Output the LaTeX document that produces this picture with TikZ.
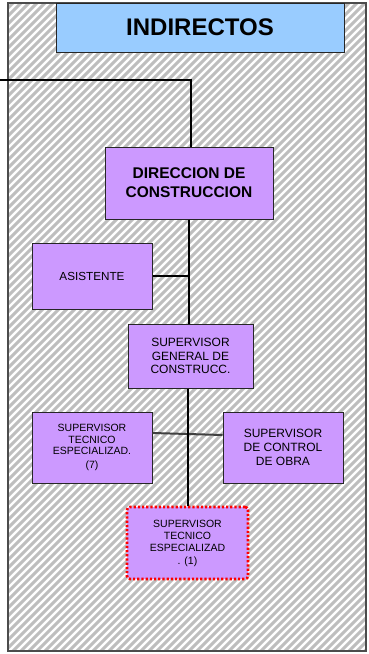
\documentclass[tikz,border=0pt]{standalone}
\usepackage{fontspec}
\setmainfont{Liberation Sans}
\definecolor{boxpurple}{HTML}{CC99FF}
\definecolor{boxblue}{HTML}{99CCFF}
\definecolor{hatchgray}{HTML}{BEBEBE}
\begin{document}
\begin{tikzpicture}[x=1pt,y=1pt,
  orgbox/.style={draw=black!85, line width=1pt, fill=boxpurple, align=center, inner sep=2pt, text=black},
  conn/.style={draw=black, line width=2pt},
  thinconn/.style={draw=black!75, line width=2pt}]
\useasboundingbox (0,0) rectangle (368,-654);
\fill[white] (0,0) rectangle (368,-654);
% hatched frame
\begin{scope}
\clip (8,-3) rectangle (366,-651);
\foreach \i in {-664,-656,...,376}{
  \draw[hatchgray, line width=3pt] (\i,-656) -- (\i+660,4);
}
\end{scope}
\draw[black!70, line width=1.3pt] (8,-3) rectangle (366,-651);
% nodes
\node[draw=black!85, line width=1pt, fill=boxblue, minimum width=288pt, minimum height=49pt, font=\fontsize{24}{28}\selectfont\bfseries] (ind) at (200,-27.5) {INDIRECTOS};
\coordinate (left) at (0,-80);
\node[orgbox, minimum width=168pt, minimum height=72pt, font=\fontsize{15.5}{18.7}\selectfont\bfseries] (dir) at (189,-183) {DIRECCION DE\\CONSTRUCCION};
\node[orgbox, minimum width=120pt, minimum height=66pt, font=\fontsize{11.7}{14}\selectfont] (asis) at (92,-276) {ASISTENTE};
\node[orgbox, minimum width=125pt, minimum height=64pt, font=\fontsize{12}{13.7}\selectfont] (sgc) at (190.5,-356) {SUPERVISOR\\GENERAL DE\\CONSTRUCC.};
\node[orgbox, minimum width=120pt, minimum height=71pt, font=\fontsize{10.5}{11.5}\selectfont] (ste7) at (92,-447.5) {SUPERVISOR\\TECNICO\\ESPECIALIZAD.\\[2pt](7)};
\node[orgbox, minimum width=120pt, minimum height=71pt, font=\fontsize{12}{13.7}\selectfont] (sco) at (283,-447.5) {SUPERVISOR\\DE CONTROL\\DE OBRA};
\node[orgbox, draw=red, line width=2.6pt, dash pattern=on 2.2pt off 2pt, rounded corners=3pt, minimum width=121pt, minimum height=72pt, font=\fontsize{10.5}{12.3}\selectfont] (ste1) at (187.5,-543) {SUPERVISOR\\TECNICO\\ESPECIALIZAD\\. (1)};
% connectors
\draw[conn] (left) -| ([xshift=2pt]dir.north);
\draw[conn] (dir.south) -- (dir.south |- sgc.north);
\draw[conn] (asis.east) -- (asis.east -| dir.south);
\draw[thinconn] ([yshift=14.5pt]ste7.east) -- ([yshift=12.5pt]sco.west);
\draw[conn] ([xshift=-3pt]sgc.south) -- ([xshift=-3pt]sgc.south |- ste1.north);
\end{tikzpicture}
\end{document}
